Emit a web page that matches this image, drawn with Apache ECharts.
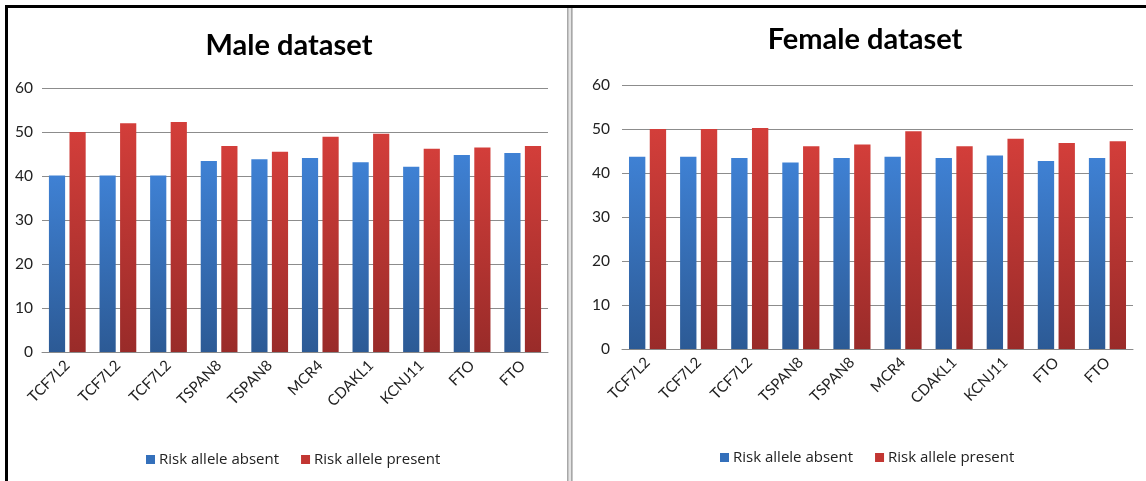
<!DOCTYPE html>
<html>
<head>
<meta charset="utf-8">
<script src="https://cdn.jsdelivr.net/npm/echarts@6/dist/echarts.min.js"></script>
<style>
html,body{margin:0;padding:0;background:#fff;}
#c{width:1146px;height:481px;}
</style>
</head>
<body>
<div id="c"></div>
<script>
const categories = ['TCF7L2','TCF7L2','TCF7L2','TSPAN8','TSPAN8','MCR4','CDAKL1','KCNJ11','FTO','FTO'];
const seriesNames = ['Risk allele absent','Risk allele present'];
const maleAbsent  = [40.1, 40.1, 40.1, 43.4, 43.8, 44.1, 43.1, 42.1, 44.8, 45.2];
const malePresent = [50.0, 52.0, 52.3, 46.8, 45.5, 48.9, 49.6, 46.2, 46.5, 46.8];
const femaleAbsent  = [43.7, 43.7, 43.4, 42.4, 43.4, 43.7, 43.4, 44.0, 42.7, 43.4];
const femalePresent = [50.0, 50.0, 50.2, 46.1, 46.5, 49.5, 46.1, 47.8, 46.8, 47.2];
const yTicks = [0, 10, 20, 30, 40, 50, 60];
const titles = ['Male dataset', 'Female dataset'];

const FONT = 'Lato, "Open Sans", sans-serif';
const LFONT = '"Open Sans", Lato, sans-serif';
const blueGrad = {type:'linear',x:0,y:0,x2:0,y2:1,colorStops:[{offset:0,color:'#3f81d4'},{offset:1,color:'#2c5a95'}]};
const redGrad  = {type:'linear',x:0,y:0,x2:0,y2:1,colorStops:[{offset:0,color:'#d33e3a'},{offset:1,color:'#992b29'}]};

const chart = echarts.init(document.getElementById('c'), null, {renderer:'canvas'});

function xAxis(i){
  return {
    type:'category', gridIndex:i, data:categories,
    axisLine:{show:true, lineStyle:{color:'#8a8a8a', width:1}},
    axisTick:{show:false},
    axisLabel:{rotate:45, margin:11, fontSize:15, color:'#222', fontFamily:FONT, interval:0}
  };
}
function yAxis(i){
  return {
    type:'value', gridIndex:i, min:yTicks[0], max:yTicks[yTicks.length-1], interval:10,
    axisLine:{show:false}, axisTick:{show:false},
    axisLabel:{fontSize:15.5, color:'#222', fontFamily:FONT, margin: i===0 ? 9 : 12},
    splitLine:{show:true, lineStyle:{color:'#8c8c8c', width:1}}
  };
}
function bar(name, data, i, color){
  return {
    name, type:'bar', xAxisIndex:i, yAxisIndex:i, data,
    barWidth:'32%', barGap:'27%',
    itemStyle:{color},
    emphasis:{disabled:true}
  };
}
function legend(left, top){
  return {
    data:seriesNames.map(n=>({name:n, itemStyle:{color:n===seriesNames[0]?'#3470bb':'#c23632'}})),
    left, top, icon:'rect', itemWidth:9, itemHeight:9, itemGap:22,
    textStyle:{fontSize:15, color:'#222', fontFamily:LFONT, padding:[0,0,0,-1]}, selectedMode:false
  };
}

chart.setOption({
  animation:false,
  title:[
    {text:titles[0], left:284, top:26, textAlign:'center', textStyle:{fontSize:29, fontWeight:'bold', color:'#000', fontFamily:FONT}},
    {text:titles[1], left:860, top:20, textAlign:'center', textStyle:{fontSize:29, fontWeight:'bold', color:'#000', fontFamily:FONT}}
  ],
  legend:[legend(141, 447), legend(715, 445)],
  grid:[
    {left:42, top:88, width:506, height:264},
    {left:622, top:85, width:511, height:264}
  ],
  xAxis:[xAxis(0), xAxis(1)],
  yAxis:[yAxis(0), yAxis(1)],
  series:[
    bar(seriesNames[0], maleAbsent, 0, blueGrad),
    bar(seriesNames[1], malePresent, 0, redGrad),
    bar(seriesNames[0], femaleAbsent, 1, blueGrad),
    bar(seriesNames[1], femalePresent, 1, redGrad)
  ],
  graphic:[
    {type:'rect', shape:{x:5, y:5, width:1141, height:3}, style:{fill:'#000'}, z:100},
    {type:'rect', shape:{x:5, y:5, width:3, height:476}, style:{fill:'#000'}, z:100},
    {type:'rect', shape:{x:567, y:8, width:6, height:473}, style:{fill:'#e4e4e4'}, z:100},
    {type:'rect', shape:{x:567, y:8, width:1.5, height:473}, style:{fill:'#a8a8a8'}, z:100},
    {type:'rect', shape:{x:571, y:8, width:1.5, height:473}, style:{fill:'#a8a8a8'}, z:100}
  ]
});
</script>
</body>
</html>
